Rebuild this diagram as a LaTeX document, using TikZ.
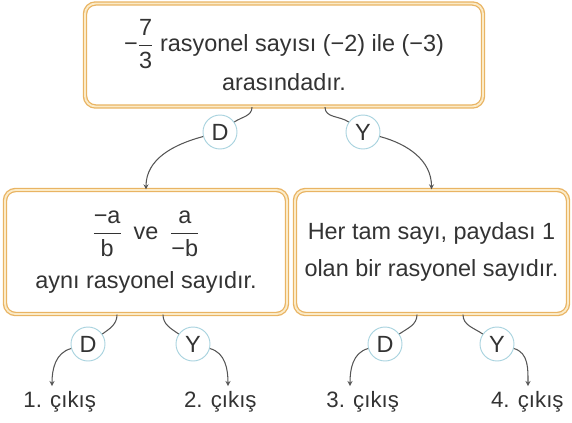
\documentclass[tikz,border=0pt]{standalone}
\usepackage{amsmath}
\usepackage{fontspec}
\setmainfont{Liberation Sans}
\usepackage{tikz}
\usetikzlibrary{arrows,calc,positioning,shapes}
\definecolor{boxgold}{HTML}{E9B463}
\definecolor{boxcream}{HTML}{FBEBC8}
\definecolor{ringblue}{HTML}{A9D3DF}
\definecolor{inkgray}{HTML}{333333}
\definecolor{linegray}{HTML}{555555}
\tikzset{%
	question/.style = {draw=boxgold, double=boxcream, double distance=1.6pt, line width=1.1pt, rectangle, rounded corners=9pt, fill=white, align=center, text=inkgray},
	answer/.style   = {draw=ringblue, circle, line width=0.8pt, fill=white, minimum size=1.02cm, inner sep=0pt, text=inkgray},
	exit/.style     = {text=inkgray, inner sep=1pt, font=\fontsize{19}{24}\selectfont}, % Output
	branch/.style   = {draw=linegray, line width=0.9pt, >=stealth},
}

\begin{document}
\begin{tikzpicture}[font=\fontsize{20}{31}\selectfont]
	\useasboundingbox (0,0) rectangle (17.16,-12.69);
	% first question
	\node [question, minimum width=11.94cm, minimum height=3.09cm] (q) at (8.52,-1.65)
		{$\text{−}\dfrac{\text{7}}{\text{3}}$ rasyonel sayısı (−2) ile (−3)\\[2pt]arasındadır.};
	\node [answer] (qd) at (6.6,-3.96) {D};
	\node [answer] (qy) at (10.89,-3.96) {Y};
	
	% second level
	\node [question, minimum width=8.46cm, minimum height=3.72cm] (l) at (4.38,-7.56)
		{$\dfrac{\text{−a}}{\text{b}}$\enspace ve\enspace $\dfrac{\text{a}}{\text{−b}}$\\[11pt]aynı rasyonel sayıdır.};
	\node [question, minimum width=8.19cm, minimum height=3.72cm] (r) at (12.945,-7.56)
		{Her tam sayı, paydası 1\\olan bir rasyonel sayıdır.};
	\node [answer] (ld) at (2.64,-10.32) {D};
	\node [answer] (ly) at (5.79,-10.32) {Y};
	\node [answer] (rd) at (11.55,-10.32) {D};
	\node [answer] (ry) at (14.91,-10.32) {Y};
	
	% exits
	\coordinate (e1) at (1.56,-11.58);
	\coordinate (e2) at (6.84,-11.58);
	\coordinate (e3) at (10.5,-11.58);
	\coordinate (e4) at (15.84,-11.58);
	\node [exit, below right=3pt and -0.9cm of e1] (o1) {1. çıkış};
	\node [exit, below left=3pt and -0.9cm of e2] (o2) {2. çıkış};
	\node [exit, below right=3pt and -0.75cm of e3] (o3) {3. çıkış};
	\node [exit, below left=3pt and -1.11cm of e4] (o4) {4. çıkış};
	
	\draw[branch] ([xshift=-0.96cm]q.south) to[out=-90,in=35] (qd);
	\draw[branch,->] (qd) to[out=195,in=90] (l.north);
	\draw[branch] ([xshift=1.23cm]q.south) to[out=-90,in=145] (qy);
	\draw[branch,->] (qy) to[out=-15,in=90] (r.north);
	
	\draw[branch] ([xshift=-0.87cm]l.south) to[out=-90,in=35] (ld);
	\draw[branch,->] (ld) to[out=195,in=90] (e1);
	\draw[branch] ([xshift=0.51cm]l.south) to[out=-90,in=145] (ly);
	\draw[branch,->] (ly) to[out=-15,in=90] (e2);
	\draw[branch] ([xshift=-0.435cm]r.south) to[out=-90,in=35] (rd);
	\draw[branch,->] (rd) to[out=195,in=90] (e3);
	\draw[branch] ([xshift=0.945cm]r.south) to[out=-90,in=145] (ry);
	\draw[branch,->] (ry) to[out=-15,in=90] (e4);
\end{tikzpicture}
\end{document}
